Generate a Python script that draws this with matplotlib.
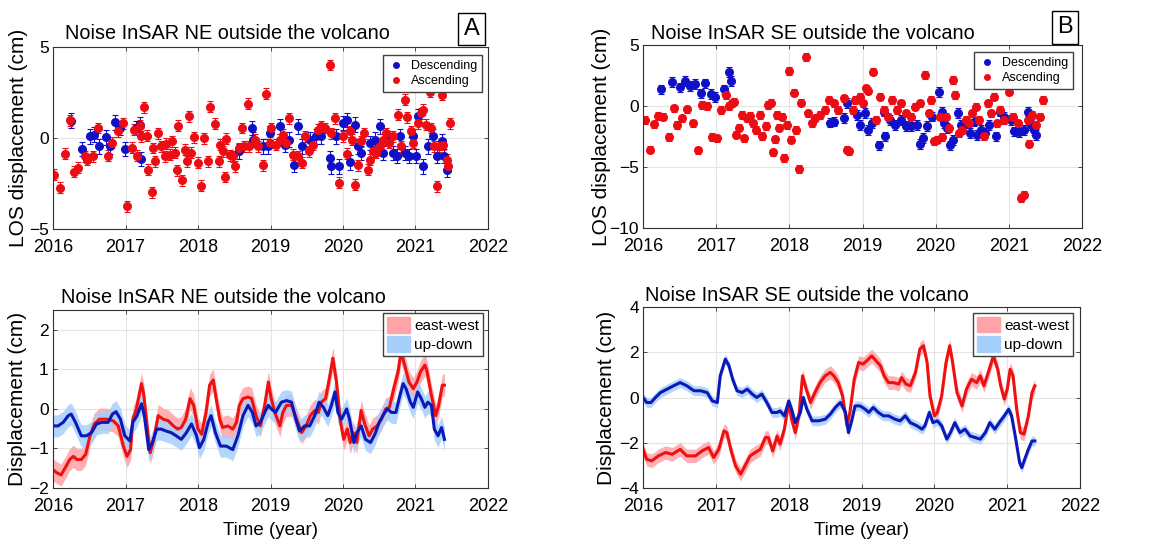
import matplotlib
matplotlib.use("Agg")
import matplotlib.pyplot as plt
from matplotlib.patches import Patch
from matplotlib.lines import Line2D

# ---- LOS time series, NE area (panel A) ----
ne_asc_t = [2016.02, 2016.09, 2016.16, 2016.23, 2016.29, 2016.35, 2016.44, 2016.47, 2016.55, 2016.62,
            2016.76, 2016.82, 2016.90, 2016.96, 2017.02, 2017.09, 2017.12, 2017.16, 2017.20, 2017.22,
            2017.25, 2017.29, 2017.31, 2017.36, 2017.38, 2017.41, 2017.45, 2017.49, 2017.54, 2017.56,
            2017.61, 2017.64, 2017.68, 2017.71, 2017.73, 2017.78, 2017.82, 2017.85, 2017.88, 2017.91,
            2017.95, 2018.00, 2018.04, 2018.08, 2018.14, 2018.16, 2018.23, 2018.29, 2018.30, 2018.34,
            2018.37, 2018.39, 2018.44, 2018.48, 2018.51, 2018.56, 2018.60, 2018.63, 2018.69, 2018.71,
            2018.78, 2018.83, 2018.89, 2018.94, 2018.99, 2019.01, 2019.08, 2019.13, 2019.17, 2019.22,
            2019.26, 2019.31, 2019.38, 2019.43, 2019.47, 2019.53, 2019.59, 2019.66, 2019.70, 2019.75,
            2019.82, 2019.84, 2019.89, 2019.95, 2020.00, 2020.05, 2020.09, 2020.12, 2020.17, 2020.21,
            2020.25, 2020.29, 2020.34, 2020.37, 2020.41, 2020.46, 2020.51, 2020.55, 2020.60, 2020.63,
            2020.69, 2020.76, 2020.80, 2020.85, 2020.88, 2020.94, 2020.97, 2021.03, 2021.07, 2021.10,
            2021.15, 2021.20, 2021.22, 2021.26, 2021.29, 2021.32, 2021.36, 2021.38, 2021.43, 2021.45,
            2021.48]
ne_asc_los = [-2.01, -2.74, -0.86, 0.97, -1.84, -1.64, -1.00, -1.19, -1.00, 0.55,
              -0.97, -0.27, 0.36, 0.82, -3.74, -0.53, 0.46, -0.97, 0.68, 0.09,
              1.70, 0.13, -1.73, -2.97, -0.55, -1.28, 0.27, -0.46, -1.00, -0.31,
              -0.93, -0.18, -0.82, -1.77, 0.68, -2.32, -0.64, -1.28, 1.19, -0.82,
              0.05, -1.37, -2.61, -0.02, -1.28, 1.73, 0.78, -1.28, -0.37, -0.73,
              -2.14, -0.05, -0.95, -1.00, -1.55, -0.55, 0.55, -0.46, 1.88, -0.46,
              -0.09, -0.46, -1.51, 2.43, -0.27, 0.55, -0.37, -0.09, 0.18, -0.27,
              1.09, -0.91, -1.00, -1.37, 0.09, -0.73, -0.37, 0.46, 0.64, 0.55,
              4.01, 0.27, 1.09, -2.46, 0.09, -0.86, 0.36, -0.09, -2.57, -1.50,
              -0.18, 0.27, -1.73, -1.19, -0.73, -0.82, -0.46, -0.09, 0.27, -0.27,
              0.09, 1.28, -0.46, 2.10, 1.15, 0.36, -0.27, 0.82, 1.37, 1.55,
              0.73, 2.55, 0.55, -0.46, -2.65, -0.46, 2.37, -0.37, -1.19, -1.55,
              0.82]
ne_desc_t = [2016.25, 2016.40, 2016.51, 2016.57, 2016.64, 2016.73, 2016.78, 2016.86, 2016.92, 2016.99,
             2017.15, 2017.20, 2017.21, 2018.56, 2018.74, 2018.76, 2018.90, 2018.97, 2018.99, 2019.13,
             2019.20, 2019.26, 2019.33, 2019.38, 2019.43, 2019.54, 2019.63, 2019.70, 2019.82, 2019.84,
             2019.91, 2019.95, 2020.00, 2020.06, 2020.09, 2020.16, 2020.21, 2020.25, 2020.37, 2020.44,
             2020.51, 2020.55, 2020.62, 2020.69, 2020.74, 2020.78, 2020.85, 2020.91, 2020.97, 2021.01,
             2021.03, 2021.10, 2021.17, 2021.24, 2021.29, 2021.36, 2021.40, 2021.43]
ne_desc_los = [0.95, -0.60, 0.09, 0.18, -0.46, 0.04, -0.46, 0.86, 0.55, -0.60,
               0.55, 0.73, -1.15, -0.73, 0.55, -0.09, -0.46, -0.46, 0.27, 0.64,
               -0.37, -0.09, -1.46, 0.64, -0.46, -0.09, 0.09, 0.09, -1.09, -1.55,
               0.09, -1.55, 0.82, 1.00, -1.33, 0.73, -0.46, -0.82, -0.27, -0.09,
               0.64, -0.82, 0.00, -0.82, -1.00, 0.09, -0.82, -1.00, 0.09, -1.00,
               1.19, -1.55, -0.46, 0.09, -1.00, -0.18, -1.00, -1.73]

# ---- LOS time series, SE area (panel B) ----
se_asc_t = [2016.02, 2016.09, 2016.15, 2016.21, 2016.27, 2016.36, 2016.43, 2016.47, 2016.53, 2016.60,
            2016.68, 2016.75, 2016.81, 2016.87, 2016.94, 2017.01, 2017.07, 2017.13, 2017.17, 2017.21,
            2017.24, 2017.27, 2017.31, 2017.35, 2017.38, 2017.42, 2017.46, 2017.50, 2017.54, 2017.60,
            2017.63, 2017.68, 2017.71, 2017.75, 2017.77, 2017.80, 2017.83, 2017.86, 2017.90, 2017.93,
            2017.97, 2018.00, 2018.02, 2018.06, 2018.09, 2018.13, 2018.16, 2018.23, 2018.26, 2018.31,
            2018.35, 2018.42, 2018.49, 2018.54, 2018.61, 2018.67, 2018.74, 2018.79, 2018.81, 2018.87,
            2018.90, 2018.96, 2019.01, 2019.05, 2019.08, 2019.14, 2019.18, 2019.24, 2019.30, 2019.35,
            2019.40, 2019.47, 2019.53, 2019.59, 2019.66, 2019.72, 2019.79, 2019.86, 2019.91, 2019.94,
            2019.98, 2020.02, 2020.06, 2020.09, 2020.14, 2020.18, 2020.23, 2020.27, 2020.32, 2020.36,
            2020.41, 2020.46, 2020.50, 2020.55, 2020.59, 2020.66, 2020.71, 2020.76, 2020.80, 2020.84,
            2020.88, 2020.94, 2021.00, 2021.05, 2021.12, 2021.17, 2021.21, 2021.26, 2021.28, 2021.32,
            2021.37, 2021.42, 2021.46]
se_asc_los = [-1.14, -3.59, -1.49, -0.82, -0.87, -2.55, -0.19, -1.55, -1.01, -0.27,
              -1.41, -3.64, 0.08, 0.00, -2.55, -2.64, -0.33, 0.90, 0.00, 0.22,
              0.35, -2.36, -1.77, -0.73, -2.64, -1.01, -0.82, -1.41, -1.96, -0.73,
              -2.45, -1.63, 0.08, 0.27, -3.80, -2.72, -0.73, -1.77, -0.87, -4.27,
              -1.55, 2.88, -2.77, 1.09, -1.96, -5.16, 0.27, 4.02, -0.60, -1.41,
              -1.01, -0.73, -0.33, 0.49, 0.22, -0.33, 0.63, -3.59, -3.72, -0.33,
              0.49, 0.76, 0.22, 1.44, 1.25, 2.80, -1.14, 0.76, -0.33, -0.87,
              0.49, -0.33, 0.22, -0.60, -0.87, -0.05, 0.22, 2.53, -0.60, 0.49,
              -2.91, -2.77, -0.87, -2.55, -0.87, -1.82, 2.12, 0.90, -2.23, -1.96,
              -1.14, -1.41, -0.60, -0.05, -1.14, -2.45, 0.22, -0.60, 0.76, -1.41,
              -0.33, -1.14, 1.17, -0.87, -1.41, -7.53, -7.26, -1.14, -3.10, -0.73,
              -1.55, -0.87, 0.49]
se_desc_t = [2016.25, 2016.39, 2016.50, 2016.58, 2016.64, 2016.71, 2016.79, 2016.85, 2016.93, 2016.98,
             2017.11, 2017.17, 2017.20, 2018.56, 2018.61, 2018.74, 2018.79, 2018.93, 2018.97, 2019.04,
             2019.07, 2019.13, 2019.23, 2019.30, 2019.31, 2019.38, 2019.45, 2019.52, 2019.59, 2019.66,
             2019.75, 2019.79, 2019.83, 2019.88, 2019.95, 2020.04, 2020.09, 2020.11, 2020.16, 2020.19,
             2020.24, 2020.30, 2020.34, 2020.41, 2020.47, 2020.52, 2020.57, 2020.62, 2020.68, 2020.73,
             2020.82, 2020.88, 2020.94, 2021.03, 2021.07, 2021.14, 2021.21, 2021.26, 2021.30, 2021.35,
             2021.37]
se_desc_los = [1.36, 1.98, 1.52, 2.07, 1.63, 1.79, 1.03, 1.85, 0.98, 0.76,
               1.36, 2.80, 2.04, -1.36, -1.28, -1.01, 0.22, -0.73, -1.55, -0.60,
               -1.96, -1.41, -3.23, -0.46, -2.50, -1.14, -1.55, -1.14, -1.63, -1.68,
               -1.55, -3.13, -2.64, -1.63, -0.87, 1.17, -0.46, -1.41, -1.82, -3.23,
               -2.77, -0.60, -1.55, -1.41, -2.23, -1.28, -2.36, -1.96, -2.23, -1.55,
               -2.50, -0.46, -0.87, -1.14, -2.09, -2.17, -1.96, -0.46, -1.55, -1.96,
               -2.36]

# LOS uncertainties (cm)
asc_err = 0.3
desc_err = 0.4

# ---- decomposed components, NE area (panel C) ----
ne_ew_t = [2016.00, 2016.05, 2016.11, 2016.18, 2016.23, 2016.28, 2016.33, 2016.39, 2016.45, 2016.51,
           2016.57, 2016.64, 2016.74, 2016.83, 2016.90, 2016.97, 2017.02, 2017.07, 2017.10, 2017.15,
           2017.22, 2017.25, 2017.30, 2017.34, 2017.39, 2017.45, 2017.52, 2017.59, 2017.66, 2017.72,
           2017.77, 2017.83, 2017.89, 2017.94, 2018.00, 2018.05, 2018.11, 2018.16, 2018.21, 2018.25,
           2018.30, 2018.34, 2018.41, 2018.48, 2018.53, 2018.57, 2018.62, 2018.69, 2018.74, 2018.80,
           2018.86, 2018.92, 2018.97, 2019.01, 2019.06, 2019.13, 2019.17, 2019.22, 2019.29, 2019.36,
           2019.43, 2019.49, 2019.55, 2019.61, 2019.66, 2019.70, 2019.76, 2019.82, 2019.86, 2019.91,
           2019.96, 2020.01, 2020.06, 2020.10, 2020.14, 2020.19, 2020.25, 2020.30, 2020.36, 2020.41,
           2020.47, 2020.53, 2020.59, 2020.64, 2020.70, 2020.76, 2020.80, 2020.85, 2020.91, 2020.97,
           2021.02, 2021.07, 2021.13, 2021.16, 2021.22, 2021.28, 2021.32, 2021.37, 2021.40]
ne_ew = [-1.54, -1.61, -1.67, -1.45, -1.28, -1.20, -1.28, -1.28, -1.15, -0.68,
         -0.38, -0.26, -0.26, -0.30, -0.43, -0.94, -1.20, -1.03, -0.26, 0.00,
         0.64, 0.38, -0.47, -1.11, -0.77, -0.17, -0.26, -0.30, -0.43, -0.51,
         -0.47, -0.26, 0.26, 0.09, -0.51, -0.64, -0.09, 0.60, 0.73, 0.26,
         -0.26, -0.47, -0.43, -0.51, -0.34, 0.09, 0.26, 0.30, 0.26, -0.17,
         -0.43, 0.09, 0.68, 0.26, -0.09, -0.43, -0.09, 0.09, 0.09, -0.26,
         -0.60, -0.43, -0.17, -0.04, -0.09, 0.17, 0.26, 0.85, 1.28, 0.68,
         -0.26, -0.77, -0.51, -0.85, -0.60, -0.85, -0.04, -0.38, -0.68, -0.51,
         -0.43, -0.26, 0.00, 0.04, 0.51, 0.94, 1.45, 1.11, 0.68, 0.51,
         0.68, 0.94, 1.11, 0.94, 0.34, -0.17, 0.09, 0.60, 0.60]
ne_ud_t = [2016.00, 2016.07, 2016.14, 2016.21, 2016.25, 2016.31, 2016.39, 2016.46, 2016.53, 2016.60,
           2016.67, 2016.76, 2016.82, 2016.87, 2016.93, 2016.99, 2017.06, 2017.10, 2017.16, 2017.22,
           2017.26, 2017.32, 2017.37, 2017.43, 2017.49, 2017.56, 2017.63, 2017.70, 2017.77, 2017.84,
           2017.91, 2017.98, 2018.02, 2018.08, 2018.14, 2018.18, 2018.24, 2018.31, 2018.39, 2018.48,
           2018.55, 2018.62, 2018.69, 2018.75, 2018.80, 2018.86, 2018.92, 2018.97, 2019.01, 2019.07,
           2019.15, 2019.22, 2019.29, 2019.35, 2019.40, 2019.47, 2019.54, 2019.61, 2019.67, 2019.73,
           2019.79, 2019.84, 2019.89, 2019.93, 2019.98, 2020.05, 2020.09, 2020.15, 2020.19, 2020.25,
           2020.31, 2020.38, 2020.44, 2020.50, 2020.55, 2020.61, 2020.67, 2020.73, 2020.78, 2020.83,
           2020.87, 2020.93, 2020.97, 2021.03, 2021.08, 2021.13, 2021.17, 2021.22, 2021.26, 2021.31,
           2021.36, 2021.40]
ne_ud = [-0.43, -0.43, -0.34, -0.17, -0.13, -0.34, -0.68, -0.68, -0.60, -0.38,
         -0.34, -0.34, -0.13, -0.07, -0.26, -0.68, -0.81, -0.34, -0.17, 0.13,
         -0.17, -1.03, -0.85, -0.51, -0.51, -0.56, -0.60, -0.68, -0.77, -0.60,
         -0.38, -0.68, -0.98, -0.77, -0.34, -0.17, -0.60, -0.94, -0.94, -1.03,
         -0.68, -0.17, 0.09, -0.09, -0.43, -0.34, -0.09, 0.09, 0.00, -0.09,
         0.17, 0.21, 0.17, -0.26, -0.56, -0.43, -0.43, -0.17, 0.17, 0.04,
         -0.17, 0.09, 0.43, -0.09, -0.26, 0.00, -0.26, -0.85, -0.60, -0.43,
         -0.77, -0.85, -0.64, -0.34, -0.17, 0.00, -0.09, -0.09, 0.30, 0.64,
         0.51, 0.17, 0.04, 0.43, 0.26, 0.04, 0.17, 0.09, -0.51, -0.68,
         -0.47, -0.77]

# ---- decomposed components, SE area (panel D) ----
se_ew_t = [2016.00, 2016.05, 2016.12, 2016.21, 2016.31, 2016.40, 2016.51, 2016.60, 2016.72, 2016.81,
           2016.90, 2016.97, 2017.04, 2017.11, 2017.15, 2017.21, 2017.27, 2017.34, 2017.40, 2017.47,
           2017.54, 2017.61, 2017.68, 2017.72, 2017.78, 2017.84, 2017.88, 2017.94, 2018.00, 2018.04,
           2018.09, 2018.14, 2018.19, 2018.24, 2018.30, 2018.36, 2018.43, 2018.50, 2018.57, 2018.62,
           2018.68, 2018.74, 2018.80, 2018.84, 2018.90, 2018.96, 2019.02, 2019.07, 2019.14, 2019.20,
           2019.26, 2019.31, 2019.37, 2019.44, 2019.51, 2019.55, 2019.61, 2019.67, 2019.74, 2019.80,
           2019.85, 2019.90, 2019.94, 2020.00, 2020.04, 2020.10, 2020.16, 2020.21, 2020.25, 2020.31,
           2020.38, 2020.44, 2020.51, 2020.58, 2020.63, 2020.68, 2020.74, 2020.81, 2020.87, 2020.91,
           2020.96, 2021.00, 2021.04, 2021.08, 2021.13, 2021.18, 2021.23, 2021.29, 2021.34, 2021.38]
se_ew = [-2.29, -2.73, -2.80, -2.58, -2.43, -2.51, -2.29, -2.58, -2.58, -2.36,
         -2.21, -2.65, -2.29, -1.47, -1.55, -2.36, -3.02, -3.39, -3.02, -2.58,
         -2.43, -2.29, -1.77, -1.77, -2.36, -1.70, -2.06, -1.40, -0.22, -0.96,
         -1.55, -0.81, 0.96, 0.37, -0.22, 0.22, 0.66, 0.96, 1.11, 0.96,
         0.66, 0.07, -1.25, -0.66, 0.81, 1.55, 1.48, 1.62, 1.84, 1.62,
         1.40, 0.96, 0.66, 0.66, 0.59, 0.88, 0.59, 0.52, 1.11, 2.14,
         2.29, 1.55, 0.07, -0.81, -0.66, 0.07, 1.55, 2.29, 1.55, 0.22,
         -0.37, 0.37, 0.81, 0.66, 0.96, 0.52, 1.11, 1.84, 1.25, 0.52,
         -0.07, 0.37, 1.25, 0.96, -0.52, -1.55, -1.62, -0.81, 0.22, 0.52]
se_ud_t = [2016.00, 2016.05, 2016.11, 2016.17, 2016.24, 2016.33, 2016.42, 2016.51, 2016.60, 2016.70,
           2016.79, 2016.88, 2016.95, 2017.02, 2017.06, 2017.13, 2017.18, 2017.23, 2017.29, 2017.36,
           2017.43, 2017.50, 2017.56, 2017.63, 2017.70, 2017.77, 2017.84, 2017.88, 2017.94, 2018.00,
           2018.04, 2018.09, 2018.16, 2018.20, 2018.25, 2018.32, 2018.41, 2018.50, 2018.57, 2018.64,
           2018.71, 2018.78, 2018.82, 2018.87, 2018.91, 2018.98, 2019.05, 2019.10, 2019.16, 2019.23,
           2019.30, 2019.37, 2019.46, 2019.53, 2019.60, 2019.67, 2019.76, 2019.83, 2019.87, 2019.93,
           2019.98, 2020.04, 2020.10, 2020.17, 2020.22, 2020.28, 2020.35, 2020.42, 2020.49, 2020.56,
           2020.63, 2020.70, 2020.76, 2020.83, 2020.89, 2020.96, 2021.02, 2021.06, 2021.11, 2021.17,
           2021.20, 2021.24, 2021.29, 2021.34, 2021.38]
se_ud = [0.00, -0.22, -0.22, 0.00, 0.22, 0.37, 0.52, 0.66, 0.52, 0.30,
         0.30, 0.22, -0.15, -0.22, 0.96, 1.70, 1.40, 0.81, 0.30, 0.22,
         0.37, 0.15, 0.00, 0.15, -0.22, -0.66, -0.66, -0.59, -0.81, -0.15,
         -0.52, -1.11, -0.66, 0.00, -0.52, -1.03, -1.03, -0.96, -0.74, -0.44,
         -0.22, -0.66, -1.55, -0.96, -0.37, -0.37, -0.52, -0.66, -0.44, -0.66,
         -0.81, -0.81, -0.96, -1.03, -0.81, -1.11, -1.25, -1.40, -1.25, -0.66,
         -1.11, -1.03, -1.25, -1.84, -1.55, -1.11, -1.55, -1.40, -1.70, -1.77,
         -1.84, -1.55, -1.11, -1.40, -1.11, -0.81, -0.52, -0.81, -1.70, -2.88,
         -3.10, -2.73, -2.29, -1.92, -1.92]

# half-width of the uncertainty band (cm)
ne_ew_band = 0.28
ne_ud_band = 0.28
se_ew_band = 0.3
se_ud_band = 0.22

year_ticks = [2016, 2017, 2018, 2019, 2020, 2021, 2022]

plt.rcParams["font.family"] = "Liberation Sans"
plt.rcParams["axes.linewidth"] = 0.8

RED_PT = "#ee0c14"
BLUE_PT = "#1010c8"
RED_LINE = "#f01010"
BLUE_LINE = "#0c18b8"
RED_BAND = "#ffa3a8"
BLUE_BAND = "#a6cffc"
SPINE = "#303030"


def style_axes(ax, ylim, yticks, xpad):
    ax.set_xlim(2016, 2022)
    ax.set_ylim(*ylim)
    ax.set_xticks(year_ticks)
    ax.set_yticks(yticks)
    ax.grid(True, color="#e4e4e4", linewidth=0.8)
    ax.set_axisbelow(True)
    ax.tick_params(direction="in", top=True, right=True, length=3,
                   width=0.6, color=SPINE)
    ax.tick_params(axis="x", pad=xpad, labelsize=13)
    ax.tick_params(axis="y", pad=3, labelsize=12.5)
    for sp in ax.spines.values():
        sp.set_color(SPINE)


def add_title(ax, text, x, y):
    ax.text(x, y, text, transform=ax.transAxes, ha="center", va="center",
            fontsize=14.3)


def add_tag(ax, letter, x, y):
    ax.text(x, y, letter, transform=ax.transAxes, ha="center", va="center",
            fontsize=17,
            bbox=dict(boxstyle="square,pad=0.22", fc="white", ec="black", lw=1.0))


def los_panel(ax, asc_t, asc_v, desc_t, desc_v):
    ax.errorbar(desc_t, desc_v, yerr=desc_err, fmt="o", color=BLUE_PT, ms=5.5,
                elinewidth=0.8, capsize=2, capthick=0.8)
    ax.errorbar(asc_t, asc_v, yerr=asc_err, fmt="o", color=RED_PT, ms=5.5,
                elinewidth=0.8, capsize=2, capthick=0.8)
    handles = [Line2D([], [], marker="o", ls="", color=BLUE_PT, ms=4),
               Line2D([], [], marker="o", ls="", color=RED_PT, ms=4)]
    return handles


def comp_panel(ax, ew_t, ew, ew_b, ud_t, ud, ud_b):
    ax.fill_between(ew_t, [v - ew_b for v in ew], [v + ew_b for v in ew],
                    color=RED_BAND, lw=0, alpha=0.85)
    ax.fill_between(ud_t, [v - ud_b for v in ud], [v + ud_b for v in ud],
                    color=BLUE_BAND, lw=0, alpha=0.85)
    ax.plot(ew_t, ew, color=RED_LINE, lw=2.2)
    ax.plot(ud_t, ud, color=BLUE_LINE, lw=2.2)
    return [Patch(color=RED_BAND), Patch(color=BLUE_BAND)]


def los_legend(ax, handles, anchor):
    ax.legend(handles, ["Descending", "Ascending"], loc="upper right",
              bbox_to_anchor=anchor, fontsize=9, fancybox=False,
              edgecolor="#404040", framealpha=1, borderpad=0.4,
              handlelength=1.2, handletextpad=0.6, labelspacing=0.25,
              borderaxespad=0)


def comp_legend(ax, handles, anchor):
    ax.legend(handles, ["east-west", "up-down"], loc="upper right",
              bbox_to_anchor=anchor, fontsize=11, fancybox=False,
              edgecolor="#404040", framealpha=1, borderpad=0.25,
              handlelength=1.5, handleheight=1.2, handletextpad=0.3,
              labelspacing=0.2, borderaxespad=0)


fig = plt.figure(figsize=(11.58, 5.44), dpi=100)
axA = fig.add_axes([0.0458, 0.5790, 0.3756, 0.3346])
axB = fig.add_axes([0.5553, 0.5809, 0.3791, 0.3364])
axC = fig.add_axes([0.0458, 0.1029, 0.3756, 0.3272])
axD = fig.add_axes([0.5553, 0.1029, 0.3774, 0.3327])

# top row: LOS displacement with error bars
h = los_panel(axA, ne_asc_t, ne_asc_los, ne_desc_t, ne_desc_los)
style_axes(axA, (-5, 5), [-5, 0, 5], xpad=7)
los_legend(axA, h, (0.986, 0.956))
axA.set_ylabel("LOS displacement (cm)", fontsize=15)
axA.yaxis.set_label_coords(-0.058, 0.5)
add_title(axA, "Noise InSAR NE outside the volcano", 0.401, 1.075)
add_tag(axA, "A", 0.962, 1.099)

h = los_panel(axB, se_asc_t, se_asc_los, se_desc_t, se_desc_los)
style_axes(axB, (-10, 5), [-10, -5, 0, 5], xpad=7)
los_legend(axB, h, (0.979, 0.962))
axB.set_ylabel("LOS displacement (cm)", fontsize=15)
axB.yaxis.set_label_coords(-0.074, 0.5)
add_title(axB, "Noise InSAR SE outside the volcano", 0.386, 1.064)
add_tag(axB, "B", 0.961, 1.096)

# bottom row: east-west / up-down components with uncertainty bands
h = comp_panel(axC, ne_ew_t, ne_ew, ne_ew_band, ne_ud_t, ne_ud, ne_ud_band)
style_axes(axC, (-2, 2.5), [-2, -1, 0, 1, 2], xpad=7)
comp_legend(axC, h, (0.989, 0.983))
axC.set_ylabel("Displacement (cm)", fontsize=15)
axC.yaxis.set_label_coords(-0.06, 0.5)
axC.set_xlabel("Time (year)", fontsize=13.5, labelpad=5)
add_title(axC, "Noise InSAR NE outside the volcano", 0.391, 1.068)

h = comp_panel(axD, se_ew_t, se_ew, se_ew_band, se_ud_t, se_ud, se_ud_band)
style_axes(axD, (-4, 4), [-4, -2, 0, 2, 4], xpad=7)
comp_legend(axD, h, (0.984, 0.967))
axD.set_ylabel("Displacement (cm)", fontsize=15)
axD.yaxis.set_label_coords(-0.062, 0.5)
axD.set_xlabel("Time (year)", fontsize=13.5, labelpad=5)
add_title(axD, "Noise InSAR SE outside the volcano", 0.376, 1.062)

fig.savefig("out.png", dpi=100, facecolor="white")
